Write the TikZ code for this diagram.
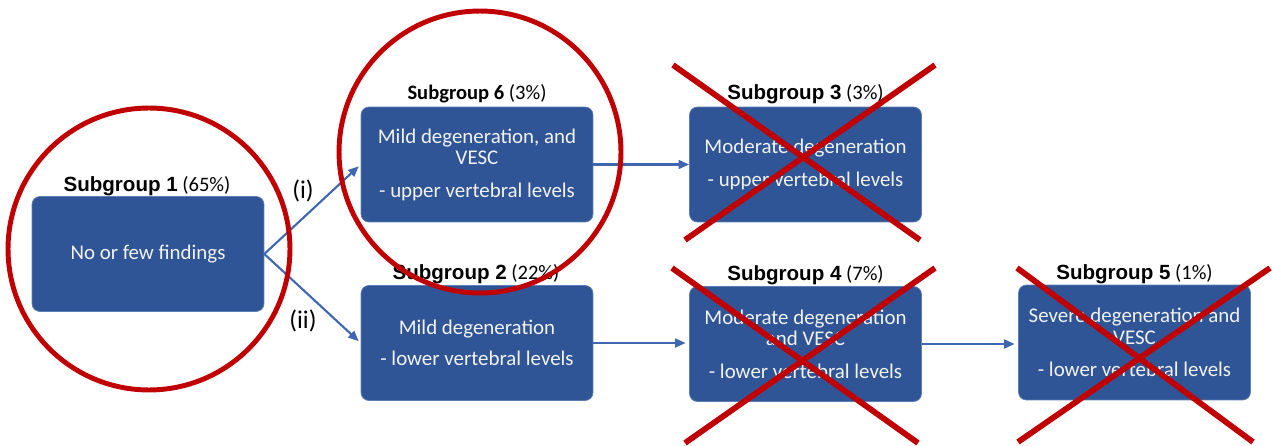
\documentclass[tikz,border=0pt]{standalone}
\usepackage{fontspec}
\setmainfont{Carlito}
\newfontfamily\arialfont{Liberation Sans}
\usetikzlibrary{arrows.meta}
\definecolor{boxblue}{HTML}{2F5597}
\definecolor{boxedge}{HTML}{5B7DB5}
\definecolor{arrblue}{HTML}{3F67B0}
\definecolor{markred}{HTML}{C00000}
\begin{document}
\begin{tikzpicture}[x=0.02cm,y=-0.02cm,
  sgbox/.style={draw=boxedge, line width=0.4pt, fill=boxblue, rounded corners=4.5pt,
    minimum width=4.64cm, minimum height=2.3cm, inner sep=0pt, text=white!95!black,
    align=center, font=\fontsize{11.9}{12.4}\selectfont},
  sglabel/.style={anchor=base, inner sep=0pt, font=\fontsize{11.7}{13}\selectfont},
  flow/.style={draw=arrblue, line width=1.2pt, -{Triangle[length=6pt,width=5pt]}},
  ring/.style={draw=markred, line width=2.8pt},
  strike/.style={draw=markred, line width=3.3pt},
  armlabel/.style={font=\fontsize{14.5}{16}\selectfont, inner sep=0pt}]
\useasboundingbox (0,0) rectangle (1272,446);

% boxes
\node[sgbox] (b1) at (148,254) {No or few findings};
\node[sgbox] (b6) at (477,164.5) {Mild degeneration, and\\VESC\\[6pt]- upper vertebral levels};
\node[sgbox] (b3) at (805.5,164.5) {Moderate degeneration\\[6pt]- upper vertebral levels};
\node[sgbox] (b2) at (477,343) {Mild degeneration\\[5pt]- lower vertebral levels};
\node[sgbox] (b4) at (805.5,344) {Moderate degeneration\\and VESC\\[6pt]- lower vertebral levels};
\node[sgbox] (b5) at (1134.5,342.5) {Severe degeneration and\\VESC\\[6pt]- lower vertebral levels};

% labels
\node[sglabel] (l1) at (147,192) {{\arialfont\bfseries Subgroup 1} (65\%)};
\node[sglabel] (l6) at (477,100) {\textbf{Subgroup 6} (3\%)};
\node[sglabel] (l3) at (805.5,100) {{\arialfont\bfseries Subgroup 3} (3\%)};
\node[sglabel] (l2) at (476,279) {{\arialfont\bfseries Subgroup 2} (22\%)};
\node[sglabel] (l4) at (805.5,280) {{\arialfont\bfseries Subgroup 4} (7\%)};
\node[sglabel] (l5) at (1134.5,279) {{\arialfont\bfseries Subgroup 5} (1\%)};

% connectors
\draw[flow, shorten >=1.5pt] (b1.east) -- (b6.west);
\draw[flow, shorten >=1.5pt] (b1.east) -- (b2.west);
\draw[flow] (b6.east) -- (b3.west);
\draw[flow, shorten >=2pt] (b2.east) -- (b2.east -| b4.west);
\draw[flow, shorten >=2pt] (b4.east) -- (b4.east -| b5.west);
\node[armlabel] (ai) at (303,191) {(i)};
\node[armlabel] (aii) at (303,321) {(ii)};

% circles
\draw[ring] (149,249) circle[radius=2.82cm];
\draw[ring] (480,152) circle[radius=2.82cm];

% crosses
\coordinate (c3a) at (673,65);  \coordinate (c3b) at (920,240);
\coordinate (c3c) at (935,65);  \coordinate (c3d) at (685,240);
\coordinate (c4a) at (672,268); \coordinate (c4b) at (918,443);
\coordinate (c4c) at (935,268); \coordinate (c4d) at (685,443);
\coordinate (c5a) at (1017,268); \coordinate (c5b) at (1253,442);
\coordinate (c5c) at (1270,268); \coordinate (c5d) at (1018,442);
\draw[strike] (c3a) -- (c3b); \draw[strike] (c3c) -- (c3d);
\draw[strike] (c4a) -- (c4b); \draw[strike] (c4c) -- (c4d);
\draw[strike] (c5a) -- (c5b); \draw[strike] (c5c) -- (c5d);
\end{tikzpicture}
\end{document}
